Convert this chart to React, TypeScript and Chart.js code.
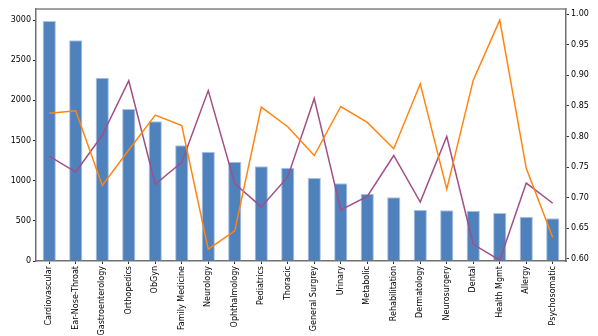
import React, { useEffect, useRef } from "react";
import { Chart, registerables } from "chart.js";

Chart.register(...registerables);

const categories = [
  "Cardiovascular", "Ear-Nose-Throat", "Gastroenterology", "Orthopedics", "ObGyn",
  "Family Medicine", "Neurology", "Ophthalmology", "Pediatrics", "Thoracic",
  "General Surgrey", "Urinary", "Metabolic", "Rehabilitation", "Dermatology",
  "Neurosurgery", "Dental", "Health Mgmt", "Allergy", "Psychosomatic",
];

const counts = [2988, 2747, 2282, 1892, 1739, 1440, 1361, 1236, 1179, 1162,
  1033, 967, 838, 793, 635, 631, 626, 598, 552, 531];

const orangeRates = [0.838, 0.842, 0.720, 0.778, 0.835, 0.818, 0.616, 0.646, 0.848, 0.816,
  0.769, 0.849, 0.823, 0.780, 0.886, 0.714, 0.892, 0.990, 0.748, 0.635];

const purpleRates = [0.768, 0.742, 0.802, 0.891, 0.722, 0.758, 0.875, 0.723, 0.685, 0.734,
  0.862, 0.680, 0.702, 0.769, 0.693, 0.800, 0.624, 0.598, 0.724, 0.691];

const leftTicks = [0, 500, 1000, 1500, 2000, 2500, 3000];
const rightTicks = [0.6, 0.65, 0.7, 0.75, 0.8, 0.85, 0.9, 0.95, 1.0];

const FONT = "'DejaVu Sans', sans-serif";

export default function App() {
  const ref = useRef<HTMLCanvasElement | null>(null);

  useEffect(() => {
    if (!ref.current) return;
    const topSpine = {
      id: "topSpine",
      afterDraw(chart: any) {
        const { ctx, chartArea } = chart;
        ctx.save();
        ctx.strokeStyle = "#808080";
        ctx.lineWidth = 1.5;
        ctx.beginPath();
        ctx.moveTo(chartArea.left - 0.75, chartArea.top);
        ctx.lineTo(chartArea.right + 0.75, chartArea.top);
        ctx.stroke();
        ctx.restore();
      },
    };
    const chart = new Chart(ref.current, {
      type: "bar",
      data: {
        labels: categories,
        datasets: [
          {
            type: "line",
            data: orangeRates,
            yAxisID: "y1",
            borderColor: "#ff8410",
            borderWidth: 1.5,
            pointRadius: 0,
            tension: 0,
            order: 1,
          } as any,
          {
            type: "line",
            data: purpleRates,
            yAxisID: "y1",
            borderColor: "#a04f88",
            borderWidth: 1.5,
            pointRadius: 0,
            tension: 0,
            order: 2,
          } as any,
          {
            type: "bar",
            data: counts,
            yAxisID: "y",
            backgroundColor: "#4f81bd",
            borderColor: "#a9c3e4",
            borderWidth: 1,
            barPercentage: 0.5,
            categoryPercentage: 1,
            order: 3,
          } as any,
        ],
      },
      options: {
        responsive: false,
        animation: false,
        devicePixelRatio: 1,
        layout: { padding: { top: 9, left: 0, right: 0, bottom: 0 } },
        plugins: { legend: { display: false }, tooltip: { enabled: false } },
        scales: {
          x: {
            type: "category",
            offset: true,
            grid: {
              offset: false,
              drawOnChartArea: false,
              drawTicks: true,
              tickLength: 3,
              color: "#333",
            },
            border: { display: true, color: "#707070", width: 1.5 },
            ticks: {
              autoSkip: false,
              maxRotation: 90,
              minRotation: 90,
              padding: 2,
              color: "#000",
              font: { family: FONT, size: 8 },
            },
            afterFit(scale: any) {
              scale.height = 75;
            },
          },
          y: {
            type: "linear",
            position: "left",
            min: 0,
            max: 3137,
            grid: { drawOnChartArea: false, tickLength: 3, color: "#333" },
            border: { display: true, color: "#707070", width: 1.5 },
            ticks: {
              padding: 2,
              color: "#000",
              font: { family: FONT, size: 8 },
              callback: (v: any) => String(Math.round(Number(v))),
            },
            afterBuildTicks(scale: any) {
              scale.ticks = leftTicks.map((v) => ({ value: v }));
            },
            afterFit(scale: any) {
              scale.width = 36;
            },
          },
          y1: {
            type: "linear",
            position: "right",
            min: 0.5967,
            max: 1.0082,
            grid: { drawOnChartArea: false, tickLength: 3, color: "#333" },
            border: { display: true, color: "#707070", width: 1.5 },
            ticks: {
              padding: 2,
              color: "#000",
              font: { family: FONT, size: 8 },
              callback: (v: any) => Number(v).toFixed(2),
            },
            afterBuildTicks(scale: any) {
              scale.ticks = rightTicks.map((v) => ({ value: v }));
            },
            afterFit(scale: any) {
              scale.width = 32;
            },
          },
        },
      },
      plugins: [topSpine],
    });
    return () => chart.destroy();
  }, []);

  return (
    <div style={{ position: "absolute", left: 0, top: 0, width: 598, height: 336, background: "#fff" }}>
      <canvas ref={ref} width={598} height={336} style={{ width: 598, height: 336 }} />
    </div>
  );
}
